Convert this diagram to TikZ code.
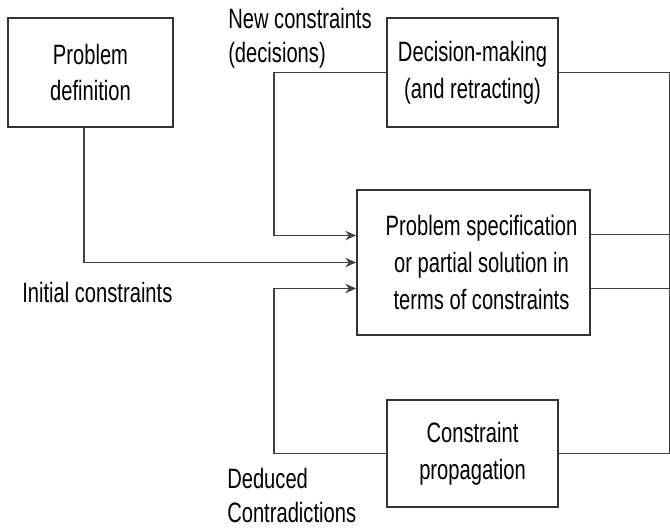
\documentclass[tikz,border=0pt]{standalone}
\usepackage{fontspec}
\setmainfont[FakeStretch=0.72]{Liberation Sans}
\usetikzlibrary{arrows.meta}

\tikzset{
  procbox/.style={draw=black!80, line width=1.4pt, align=center, inner sep=0pt,
    font=\fontsize{21pt}{27.5pt}\selectfont},
  sidenote/.style={align=left, inner sep=0pt, anchor=base west,
    font=\fontsize{21pt}{25.5pt}\selectfont},
  link/.style={draw=black!75, line width=1.4pt},
  feed/.style={link, -{Stealth[length=8pt,width=7pt]}}
}

\begin{document}
\begin{tikzpicture}[x=0.75pt,y=0.75pt,yscale=-1,xscale=1]
  \clip (0,0) rectangle (670,528); %diagram is 670 wide and 528 high

  %Boxes
  \node [procbox, minimum width=123.75pt, minimum height=81.75pt] (pdef) at (90.5,72.5) {Problem\\definition};
  \node [procbox, minimum width=128.25pt, minimum height=81.75pt] (decide) at (472.5,72.5) {Decision-making\\(and retracting)};
  \node [procbox, minimum width=174.75pt, minimum height=108.75pt] (spec) at (473.5,262.5) {\hspace{12pt}Problem specification\\\hspace{12pt}or partial solution in\\\hspace{12pt}terms of constraints};
  \node [procbox, minimum width=128.25pt, minimum height=80.25pt] (prop) at (472.5,453.5) {Constraint\\propagation};

  % Text Node
  \node [sidenote] (newc) at (228,63) {New constraints\\(decisions)};
  % Text Node
  \node [sidenote] (initc) at (22,302) {Initial constraints};
  % Text Node
  \node [sidenote] (dedc) at (227,522) {Deduced\\Contradictions};

  %Bend points
  \coordinate (topbend) at (274,72.5);
  \coordinate (lowbend) at (274,453.5);
  \coordinate (rtop) at (670,72.5);
  \coordinate (rlow) at (670,453.5);

  %Feeds into the specification
  \draw [feed] (decide.west) -- (topbend) |- ([yshift=-20.25pt]spec.west);
  \draw [feed] ([xshift=-4.9pt]pdef.south) |- (spec.west);
  \draw [feed] (prop.west) -- (lowbend) |- ([yshift=19.5pt]spec.west);

  %Lines to the right edge
  \draw [link] (decide.east) -- (rtop);
  \draw [link] ([yshift=-21pt]spec.east) -- ([yshift=-21pt]spec.east -| rtop);
  \draw [link] ([yshift=19.5pt]spec.east) -- ([yshift=19.5pt]spec.east -| rtop);
  \draw [link] (prop.east) -- (rlow);
  \draw [link] (rtop) -- (rlow);
\end{tikzpicture}
\end{document}
